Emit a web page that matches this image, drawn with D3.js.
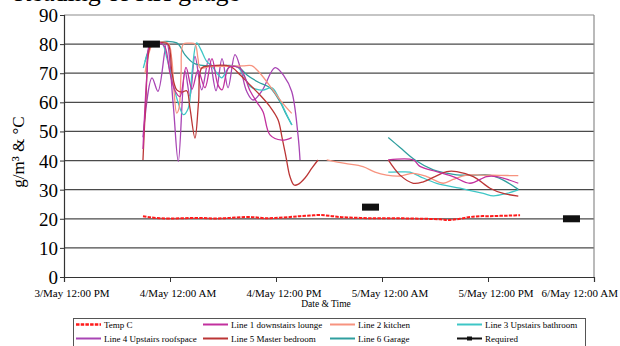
<!DOCTYPE html>
<html><head><meta charset="utf-8">
<script src="https://cdn.jsdelivr.net/npm/d3@7"></script>
<style>
body{margin:0;background:#fff}
svg{display:block}
text{font-family:"Liberation Serif","DejaVu Serif",serif;fill:#000}
</style>
</head><body>
<svg id="c" width="620" height="346"></svg>
<script>
// ---------- data (x = hours after 3/May 12:00 PM) ----------
const xTickHours = [0, 12, 24, 36, 48, 60];
const xTickLabels = ["3/May 12:00 PM", "4/May 12:00 AM", "4/May 12:00 PM", "5/May 12:00 AM", "5/May 12:00 PM", "6/May 12:00 AM"];
const yTicks = [0, 10, 20, 30, 40, 50, 60, 70, 80, 90];

const seriesNames = ["Temp C", "Line 1 downstairs lounge", "Line 2 kitchen", "Line 3 Upstairs bathroom",
                     "Line 4 Upstairs roofspace", "Line 5 Master bedroom", "Line 6 Garage", "Required"];

const tempHours = [8.94, 9.74, 10.87, 12.00, 13.70, 15.40, 17.09, 18.79, 20.49, 21.62, 22.76, 23.89, 25.58, 26.72, 27.85, 28.98, 30.11, 31.25, 32.38, 33.51, 34.64, 35.77, 37.47, 39.17, 40.87, 42.57, 43.70, 44.83, 45.96, 47.10, 48.23, 49.36, 50.49, 51.63];
const tempValues = [20.9, 20.5, 20.2, 20.1, 20.2, 20.3, 20.1, 20.3, 20.6, 20.5, 20.2, 20.3, 20.6, 20.9, 21.1, 21.3, 21.0, 20.6, 20.4, 20.3, 20.2, 20.2, 20.2, 20.1, 20.0, 19.8, 19.6, 20.0, 20.6, 20.9, 20.9, 21.0, 21.1, 21.2];

const line1Hours = [8.94, 9.40, 9.74, 10.87, 11.43, 12.00, 12.57, 13.13, 13.81, 14.49, 15.17, 15.96, 16.75, 17.43, 17.89, 18.68, 19.92, 21.06, 21.85, 22.53, 23.32, 24.65, 25.78, 31.0, 36.71, 39.54, 40.30, 42.19, 44.04, 45.96, 47.85, 48.99, 51.43];
const line1Values = [44, 70, 80, 80.5, 79, 70, 64, 62, 72, 64.5, 71, 65, 75, 66, 64.3, 72, 71.7, 64, 60, 56.8, 48.8, 47, 47.9, null, 40.2, 40.2, 38, 36.2, 34.5, 32.2, 34.5, 34.5, 32.2];

const line2Hours = [9.17, 9.62, 10.08, 11.77, 12.19, 12.45, 12.76, 13.02, 13.25, 13.51, 14.26, 14.83, 15.17, 15.40, 16.53, 18.79, 20.26, 21.25, 22.19, 23.66, 24.68, 25.78, 27.5, 29.74, 31.81, 33.85, 35.21, 36.53, 38.04, 39.54, 41.06, 42.94, 44.04, 45.59, 47.10, 49.36, 51.43];
const line2Values = [70, 77, 80, 80.3, 75, 64, 56.3, 58, 70, 80, 80.3, 80, 75, 71.8, 72.3, 72.4, 72.5, 72.6, 70, 64.2, 60, 56.2, null, 40.2, 39, 37.9, 36, 35, 34.7, 35.6, 34.5, 32.2, 33.5, 35, 35, 34.9, 34.8];

const line3Hours = [8.98, 9.40, 10.11, 11.06, 11.66, 12.37, 12.91, 13.51, 14.07, 14.49, 15.02, 15.51, 16.15, 16.75, 17.32, 17.85, 18.34, 18.79, 19.70, 20.38, 21.06, 21.74, 22.53, 23.55, 24.23, 25.02, 25.78, 31.0, 36.71, 38.04, 39.17, 40.30, 42.19, 44.83, 47.47, 48.60, 50.12, 51.43];
const line3Values = [71.8, 76, 80.4, 80.5, 75, 66, 60, 55.8, 58, 70, 80.4, 78, 74.1, 72.5, 70, 68.4, 70.5, 72.4, 72, 69, 65.5, 64.5, 64.2, 65, 62, 57, 52.2, null, 36, 36.1, 36, 34.5, 32.2, 30.5, 28.7, 27.9, 28.7, 29.9];

const line4Hours = [8.94, 9.96, 10.64, 11.63, 12.37, 12.94, 13.70, 14.26, 14.83, 15.59, 16.42, 17.21, 17.89, 18.57, 19.36, 20.04, 20.68, 21.40, 22.42, 23.89, 24.91, 25.78, 26.49, 26.72];
const line4Values = [48, 68.4, 63.8, 80.4, 59, 39.7, 70.7, 62.1, 75.8, 64.3, 75, 64, 75, 65, 76.4, 71, 63.8, 60.8, 64, 71.9, 69, 63.7, 48.8, 40.2];

const line5Hours = [8.94, 9.28, 9.62, 9.96, 10.87, 11.77, 12.23, 12.76, 13.36, 13.89, 14.26, 14.83, 15.23, 15.59, 16.53, 18.79, 19.92, 21.06, 22.19, 23.32, 24.23, 24.68, 25.13, 25.58, 26.04, 26.49, 27.28, 28.08, 28.76, 32.0, 36.71, 38.04, 39.54, 40.68, 42.00, 43.33, 44.46, 46.34, 48.23, 49.73, 51.43];
const line5Values = [40.2, 62, 78, 80.3, 80.5, 80, 70, 64.3, 63.5, 64, 58, 47.7, 60, 71.8, 72.5, 72.4, 69.5, 66, 62.5, 58.5, 54, 48, 41.3, 34.5, 31.6, 31.8, 34, 37.5, 40.2, null, 40.2, 35, 32.2, 32.7, 34.5, 36.2, 36.2, 34.5, 30.5, 28.7, 27.8];

const line6Hours = [9.17, 9.74, 10.30, 12.76, 13.70, 14.64, 15.40, 17.09, 19.13, 19.92, 20.72, 21.96, 23.32, 24.45, 25.13, 25.81, 31.0, 36.71, 38.04, 39.74, 41.81, 43.13, 44.83, 46.53, 48.23, 49.73, 51.43];
const line6Values = [74, 79, 80.4, 80.4, 76.3, 73.5, 72.8, 72.5, 72.6, 71.8, 69.4, 67, 65, 60.2, 56, 52.2, null, 47.9, 44.5, 40.2, 36.8, 35.8, 35, 35, 35, 33.3, 30.1];

const requiredHours = [9.90, 34.70, 57.45];
const requiredValues = [80, 24, 20];

// ---------- styles ----------
const lineColors = ["#ff1a1a", "#c2309e", "#f7937f", "#3ec6c6", "#a845b4", "#bb3535", "#2f9e9e", "#111"];
const FONT = '"Liberation Serif","DejaVu Serif",serif';

// ---------- chart ----------
const svg = d3.select("#c");
const L = 64, R = 594, T = 15, B = 277;
const x = d3.scaleLinear().domain([0, 60]).range([L, R]);
const y = d3.scaleLinear().domain([0, 90]).range([B, T]);

// grid
svg.append("g").selectAll("line").data(yTicks.filter(d => d > 0)).join("line")
  .attr("x1", L).attr("x2", R).attr("y1", d => y(d)).attr("y2", d => y(d))
  .attr("stroke", d => d === 90 ? "#8c8c8c" : "#4a4a4a").attr("stroke-width", 1.2);
svg.append("line").attr("x1", R).attr("x2", R).attr("y1", T).attr("y2", B)
  .attr("stroke", "#8c8c8c").attr("stroke-width", 1.2);

// axes
const yAxis = d3.axisLeft(y).tickValues(yTicks).tickSize(4).tickPadding(2);
const gy = svg.append("g").attr("transform", `translate(${L},0)`).call(yAxis);
gy.select(".domain").attr("stroke", "#333").attr("stroke-width", 1.2);
gy.selectAll(".tick line").attr("stroke", "#333");
gy.selectAll("text").style("font-size", "19px").style("font-family", FONT).attr("dy", "0.34em");

const xAxis = d3.axisBottom(x).tickValues(xTickHours).tickSize(5).tickFormat(() => "");
const gx = svg.append("g").attr("transform", `translate(0,${B})`).call(xAxis);
gx.select(".domain").attr("stroke", "#333").attr("stroke-width", 1.2);
gx.selectAll(".tick line").attr("stroke", "#333");

svg.append("g").selectAll("text").data(xTickHours).join("text")
  .attr("x", (d, i) => i === xTickHours.length - 1 ? 618 : x(d) + 8)
  .attr("y", 297)
  .attr("text-anchor", (d, i) => i === xTickHours.length - 1 ? "end" : "middle")
  .style("font-size", "11px").style("font-family", FONT)
  .text((d, i) => xTickLabels[i]);

svg.append("text").attr("x", 326).attr("y", 307).attr("text-anchor", "middle")
  .style("font-size", "9.5px").style("font-family", FONT).text("Date & Time");

svg.append("text").attr("transform", "translate(24,152) rotate(-90)").attr("text-anchor", "middle")
  .style("font-size", "17px").style("font-family", FONT).text("g/m³ & °C");

// cut-off title (only its lower edge is inside the picture, as in the reference)
svg.append("text").attr("x", 14).attr("y", 1).style("font-size", "26px").style("font-family", FONT)
  .text("Reading of RH gauge");

// lines
const lineGen = d3.line().defined(d => d[1] != null)
  .x(d => x(d[0])).y(d => y(d[1])).curve(d3.curveCatmullRom.alpha(0.5));
const zipPts = (h, v) => h.map((t, i) => [t, v[i]]);

const series = [
  [line4Hours, line4Values, 4],
  [line6Hours, line6Values, 6],
  [line3Hours, line3Values, 3],
  [line2Hours, line2Values, 2],
  [line5Hours, line5Values, 5],
  [line1Hours, line1Values, 1],
];
series.forEach(([h, v, k]) => {
  svg.append("path").datum(zipPts(h, v)).attr("d", lineGen)
    .attr("fill", "none").attr("stroke", lineColors[k]).attr("stroke-width", 1.3);
});
svg.append("path").datum(zipPts(tempHours, tempValues)).attr("d", lineGen)
  .attr("fill", "none").attr("stroke", lineColors[0]).attr("stroke-width", 2)
  .attr("stroke-dasharray", "3.5,1.2");

// Required markers
svg.append("g").selectAll("rect").data(zipPts(requiredHours, requiredValues)).join("rect")
  .attr("x", d => x(d[0]) - 8.5).attr("y", d => y(d[1]) - 3.5)
  .attr("width", 17).attr("height", 7).attr("fill", lineColors[7]);

// legend
const lg = svg.append("g");
lg.append("rect").attr("x", 73.5).attr("y", 318.5).attr("width", 512).attr("height", 40)
  .attr("fill", "#fff").attr("stroke", "#555").attr("stroke-width", 1);
const colX = [76, 203, 330, 457];
const rowY = [324.5, 338.5];
seriesNames.forEach((name, i) => {
  const cx = colX[i % 4], cy = rowY[Math.floor(i / 4)];
  const ln = lg.append("line").attr("x1", cx).attr("x2", cx + 25).attr("y1", cy).attr("y2", cy)
    .attr("stroke", lineColors[i]).attr("stroke-width", 2);
  if (i === 0) ln.attr("stroke-dasharray", "3.5,1.2").attr("stroke-width", 2.5);
  if (i === 7) lg.append("rect").attr("x", cx + 10).attr("y", cy - 2).attr("width", 5).attr("height", 4).attr("fill", "#111");
  lg.append("text").attr("x", cx + 28).attr("y", cy + 3).style("font-size", "9px").style("font-family", FONT).text(name);
});
</script>
</body></html>
